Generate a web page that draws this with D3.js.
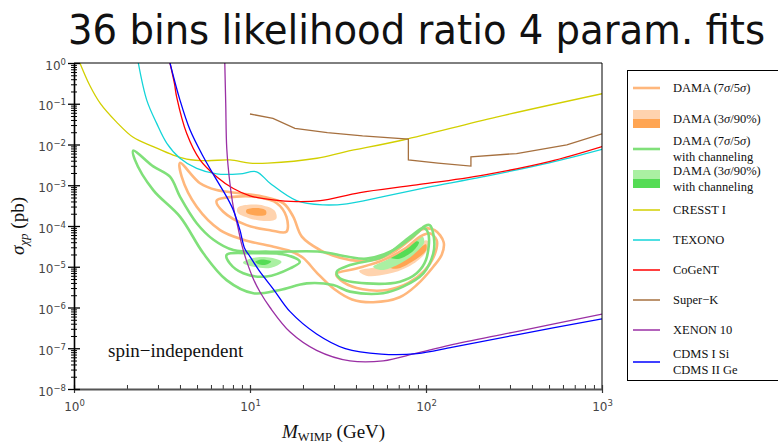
<!DOCTYPE html>
<html>
<head>
<meta charset="utf-8">
<script src="https://cdn.jsdelivr.net/npm/d3@7"></script>
<style>
  body { margin: 0; background: #fff; }
  svg { display: block; }
</style>
</head>
<body>
<div id="chart"></div>
<script>
// ---- data: [mass (GeV), cross section (pb)] ----
const massTicks = [1, 10, 100, 1000];
const massTickExp = ["0", "1", "2", "3"];
const sigmaTicks = [1, 1e-1, 1e-2, 1e-3, 1e-4, 1e-5, 1e-6, 1e-7, 1e-8];
const sigmaTickExp = ["0", "−1", "−2", "−3", "−4", "−5", "−6", "−7", "−8"];

const cresst = [[1.08, 1], [1.23, 0.28], [1.41, 0.102], [1.74, 0.036], [2.17, 0.015], [2.82, 8.9e-3],
  [3.66, 5.5e-3], [4.37, 4.4e-3], [5.68, 4.0e-3], [7.69, 4.2e-3], [10, 3.5e-3], [12.6, 3.5e-3],
  [24, 4.6e-3], [34.7, 6.6e-3], [74, 0.0129], [251, 0.047], [1000, 0.176]];

const texono = [[2.32, 1], [2.59, 0.123], [2.95, 0.033], [3.37, 0.0107], [4.0, 4.6e-3], [4.98, 2.6e-3],
  [6.46, 1.9e-3], [8.77, 1.9e-3], [10.9, 2.14e-3], [13.0, 1.12e-3], [18.4, 4.2e-4], [26.1, 3.3e-4],
  [35.5, 3.5e-4], [57.1, 5.25e-4], [100, 8.7e-4], [212, 1.62e-3], [501, 3.55e-3], [1000, 7.6e-3]];

const cogent = [[3.51, 1], [3.72, 0.316], [3.83, 0.148], [4.37, 0.0186], [5.2, 4.2e-3], [6.46, 1.62e-3],
  [8.04, 8.3e-4], [10, 5.5e-4], [13.5, 4.37e-4], [18.4, 3.98e-4], [25.1, 4.2e-4], [42.2, 6.6e-4],
  [88.5, 1.02e-3], [212, 1.78e-3], [501, 3.8e-3], [1000, 8.9e-3]];

const superK = [[10, 0.056], [13.5, 0.0437], [18, 0.025], [27.5, 0.0195], [43.6, 0.0162], [79.4, 0.0135],
  [79.4, 4.2e-3], [117, 3.5e-3], [180, 2.95e-3], [180, 5.0e-3], [327, 6.0e-3], [631, 9.8e-3],
  [1000, 0.0182]];

const xenon10 = [[7.19, 1], [7.28, 0.1], [7.38, 7.9e-3], [7.69, 1.12e-3], [8.04, 2.95e-4], [8.51, 1e-4],
  [8.97, 3.55e-5], [9.55, 1.41e-5], [10.45, 5.0e-6], [11.4, 2.4e-6], [13.0, 1e-6], [16.9, 2.5e-7],
  [23.9, 8.9e-8], [37, 4.9e-8], [57.1, 4.9e-8], [88.5, 7.6e-8], [137, 1.2e-7], [327, 2.57e-7],
  [1000, 6.9e-7]];

const cdms = [[3.51, 1], [4.0, 0.123], [4.56, 0.0229], [5.43, 5.0e-3], [6.46, 1.35e-3], [7.36, 5.25e-4],
  [8.04, 2.45e-4], [8.77, 7.9e-5], [9.33, 2.8e-5], [10, 1.78e-5], [11.3, 7.9e-6], [13.6, 2.8e-6],
  [16.9, 7.9e-7], [23.9, 2.24e-7], [34.8, 9.8e-8], [55.7, 7.2e-8], [88.9, 7.4e-8], [142, 1.07e-7],
  [327, 2.14e-7], [1000, 5.25e-7]];

// DAMA contours without channeling (orange)
const dama7 = [[4.0, 3.55e-3], [5.2, 1.12e-3], [6.46, 7.6e-4], [8.91, 6.3e-4], [11.9, 5.25e-4],
  [15.5, 3.6e-4], [17.6, 1.7e-4], [19.7, 5.5e-5], [25, 2.57e-5], [29.5, 1.9e-5], [39.8, 1.41e-5],
  [52.5, 1.5e-5], [67.6, 2.5e-5], [83.2, 5.0e-5], [95.5, 8.3e-5], [112, 7.9e-5], [126, 4.0e-5],
  [123, 2.0e-5], [110, 1.0e-5], [88.5, 3.55e-6], [70.8, 1.78e-6], [50.1, 1.35e-6], [38, 1.58e-6],
  [30.2, 2.8e-6], [24, 7.1e-6], [20, 1.66e-5], [16.6, 2.5e-5], [13.6, 3.1e-5], [9.16, 4.6e-5],
  [6.76, 7.9e-5], [4.98, 2.95e-4], [4.09, 1.62e-3]];
const dama5Low = [[6.46, 4.17e-4], [8.4, 5.25e-4], [11.4, 5.0e-4], [14.2, 3.63e-4], [16.1, 1.7e-4],
  [16.1, 7.2e-5], [13.0, 7.9e-5], [9.57, 1.05e-4], [7.05, 2.24e-4]];
const dama5High = [[30.9, 6.6e-6], [39.8, 8.9e-6], [56.2, 1.41e-5], [75.9, 2.8e-5], [93.3, 5.6e-5],
  [105, 6.6e-5], [115, 4.5e-5], [112, 2.0e-5], [97.7, 7.9e-6], [79.4, 4.0e-6], [60.3, 2.7e-6],
  [43.6, 2.8e-6], [33.9, 4.2e-6]];
const dama90Low = [[8.51, 2.8e-4], [9.77, 3.3e-4], [12.0, 3.16e-4], [13.8, 2.4e-4], [14.1, 1.51e-4],
  [12.0, 1.32e-4], [9.77, 1.58e-4], [8.51, 2.1e-4]];
const dama3Low = [[9.55, 2.5e-4], [11.0, 2.75e-4], [12.3, 2.4e-4], [12.3, 1.9e-4], [10.7, 1.82e-4],
  [9.55, 2.1e-4]];
const dama90High = [[41.7, 7.9e-6], [52.5, 1e-5], [70.8, 1.66e-5], [89.1, 3.16e-5], [100, 4.5e-5],
  [105, 3.8e-5], [97.7, 2.0e-5], [79.4, 1e-5], [60.3, 6.6e-6], [45.7, 6.0e-6]];
const dama3High = [[60.3, 1.05e-5], [75.9, 1.58e-5], [91.2, 2.8e-5], [100, 3.55e-5], [100, 2.5e-5],
  [85.1, 1.41e-5], [67.6, 8.9e-6]];

// DAMA contours with channeling (green)
const chan7 = [[2.17, 7.1e-3], [2.82, 2.9e-3], [3.51, 1.62e-3], [4.0, 5.25e-4], [4.98, 1.17e-4],
  [6.2, 4.6e-5], [8.04, 2.57e-5], [13.0, 2.34e-5], [25.1, 2.34e-5], [35.5, 1.78e-5], [46, 1.58e-5],
  [65.2, 2.57e-5], [88.5, 6.6e-5], [98.6, 1.0e-4], [105, 1.05e-4], [111, 5.0e-5], [110, 2.14e-5],
  [96.6, 6.9e-6], [74.1, 3.24e-6], [57.1, 2.24e-6], [37, 2.45e-6], [29.7, 3.55e-6], [21, 3.9e-6],
  [14.8, 2.7e-6], [10.45, 2.24e-6], [7.36, 4.7e-6], [5.43, 2.14e-5], [4.0, 1.7e-4], [2.82, 7.6e-4],
  [2.22, 4.2e-3]];
const chan5Low = [[7.36, 1.95e-5], [10.45, 2.14e-5], [16.1, 1.95e-5], [19.2, 1.32e-5], [16.9, 9.1e-6],
  [12.4, 5.75e-6], [9.16, 6.9e-6], [7.69, 1.2e-5]];
const chan5High = [[31.1, 7.6e-6], [37, 1.1e-5], [57.1, 1.78e-5], [81.3, 5.5e-5], [96.6, 8.9e-5],
  [103, 6.6e-5], [100, 1.48e-5], [88.5, 6.9e-6], [71.1, 4.3e-6], [46, 3.9e-6], [32.4, 5.25e-6]];
const chan90Low = [[9.12, 1.26e-5], [10.5, 1.66e-5], [13.2, 1.66e-5], [15.1, 1.32e-5], [13.2, 9.5e-6],
  [10.5, 1e-5]];
const chan3Low = [[10.7, 1.32e-5], [11.7, 1.51e-5], [13.2, 1.35e-5], [12.3, 1.12e-5], [11.2, 1.15e-5]];
const chan90High = [[50.1, 1e-5], [60.3, 1.51e-5], [75.9, 2.8e-5], [89.1, 5.0e-5], [95.5, 5.6e-5],
  [97.7, 4.0e-5], [85.1, 2.0e-5], [69.2, 1.12e-5], [56.2, 8.3e-6]];
const chan3High = [[63.1, 1.66e-5], [75.9, 2.63e-5], [87.1, 4.2e-5], [91.2, 4.0e-5], [85.1, 2.5e-5],
  [70.8, 1.58e-5]];

const legendLabels = [["DAMA (7σ/5σ)"], ["DAMA (3σ/90%)"], ["DAMA (7σ/5σ)", "with channeling"],
  ["DAMA (3σ/90%)", "with channeling"], ["CRESST I"], ["TEXONO"], ["CoGeNT"], ["Super−K"],
  ["XENON 10"], ["CDMS I Si", "CDMS II Ge"]];

// ---- layout ----
const width = 778, height = 445;
const plot = { left: 74, right: 602, top: 63, bottom: 389 };
const serif = "'Liberation Serif', 'Times New Roman', serif";

const col = {
  orangeLine: "#ffb77c", orangeLight: "#ffd3ae", orangeDark: "#ffa552",
  greenLine: "#80e07a", greenLight: "#aaf0a2", greenDark: "#55dc55",
  cresst: "#d2cf00", texono: "#13d4d8", cogent: "#ff0000", superK: "#a6703f",
  xenon: "#9a2fa4", cdms: "#0000ff"
};

const svg = d3.select("#chart").append("svg")
  .attr("width", width).attr("height", height);

const x = d3.scaleLog().domain([1, 1000]).range([plot.left, plot.right]);
const y = d3.scaleLog().domain([1e-8, 1]).range([plot.bottom, plot.top]);

// Title
svg.append("text")
  .attr("x", 68).attr("y", 44)
  .attr("textLength", 697).attr("lengthAdjust", "spacingAndGlyphs")
  .style("font-family", "'DejaVu Sans Condensed', 'DejaVu Sans', sans-serif")
  .style("font-size", "40px").attr("fill", "#111")
  .text("36 bins likelihood ratio 4 param. fits");

// clip for plot area
svg.append("clipPath").attr("id", "clip").append("rect")
  .attr("x", plot.left).attr("y", plot.top)
  .attr("width", plot.right - plot.left).attr("height", plot.bottom - plot.top);
const g = svg.append("g").attr("clip-path", "url(#clip)");

const closed = d3.line().x(d => x(d[0])).y(d => y(d[1])).curve(d3.curveCatmullRomClosed.alpha(0.5));
const smooth = d3.line().x(d => x(d[0])).y(d => y(d[1])).curve(d3.curveCatmullRom.alpha(0.5));
const straight = d3.line().x(d => x(d[0])).y(d => y(d[1]));

// filled regions
[[dama90Low, col.orangeLight], [dama3Low, col.orangeDark], [dama90High, col.orangeLight],
 [dama3High, col.orangeDark], [chan90Low, col.greenLight], [chan3Low, col.greenDark],
 [chan90High, col.greenLight], [chan3High, col.greenDark]].forEach(([pts, c]) => {
  g.append("path").attr("d", closed(pts)).attr("fill", c).attr("stroke", "none");
});

// contour lines
[[dama7, col.orangeLine], [dama5Low, col.orangeLine], [dama5High, col.orangeLine],
 [chan7, col.greenLine], [chan5Low, col.greenLine], [chan5High, col.greenLine]].forEach(([pts, c]) => {
  g.append("path").attr("d", closed(pts)).attr("fill", "none")
    .attr("stroke", c).attr("stroke-width", 2.6).attr("stroke-linejoin", "round");
});

// exclusion limits
[[cresst, col.cresst, smooth], [texono, col.texono, smooth], [cogent, col.cogent, smooth],
 [superK, col.superK, straight], [xenon10, col.xenon, smooth], [cdms, col.cdms, smooth]].forEach(([pts, c, gen]) => {
  g.append("path").attr("d", gen(pts)).attr("fill", "none")
    .attr("stroke", c).attr("stroke-width", 1.3);
});

// frame (top and right)
svg.append("path")
  .attr("d", `M${plot.left},${plot.top}H${plot.right}V${plot.bottom}`)
  .attr("fill", "none").attr("stroke", "#000").attr("stroke-width", 1);

// ---- axes ----
const isMajor = v => Math.abs(Math.log10(v) - Math.round(Math.log10(v))) < 1e-6;

// x minor ticks
const xMinorG = svg.append("g").attr("transform", `translate(0,${plot.bottom})`)
  .call(d3.axisBottom(x).tickValues(x.ticks().filter(v => !isMajor(v))).tickSize(0).tickFormat(""));
xMinorG.select(".domain").remove();
xMinorG.selectAll(".tick line").attr("y1", -4).attr("y2", 0).attr("stroke", "#333");

// x major ticks + labels
const xAxisG = svg.append("g").attr("transform", `translate(0,${plot.bottom})`)
  .call(d3.axisBottom(x).tickValues(massTicks).tickSize(0).tickFormat(""));
xAxisG.select(".domain").attr("stroke", "#555").attr("stroke-width", 2);
xAxisG.selectAll(".tick line").attr("y1", -4).attr("y2", 4).attr("stroke", "#333").attr("stroke-width", 1.2);
xAxisG.selectAll(".tick").each(function(d, i) {
  const t = d3.select(this).append("text")
    .attr("y", 22).attr("text-anchor", "middle").attr("fill", "#444")
    .style("font-family", "'DejaVu Sans', sans-serif").style("font-size", "12px");
  t.append("tspan").text("10");
  t.append("tspan").attr("dy", -5).style("font-size", "8.5px").text(massTickExp[i]);
});

// y minor ticks
const yMinorG = svg.append("g").attr("transform", `translate(${plot.left},0)`)
  .call(d3.axisLeft(y).tickValues(y.ticks().filter(v => !isMajor(v))).tickSize(0).tickFormat(""));
yMinorG.select(".domain").remove();
yMinorG.selectAll(".tick line").attr("x1", -3).attr("x2", 3).attr("stroke", "#000");

// y major ticks + labels
const yAxisG = svg.append("g").attr("transform", `translate(${plot.left},0)`)
  .call(d3.axisLeft(y).tickValues(sigmaTicks).tickSize(0).tickFormat(""));
yAxisG.select(".domain").attr("stroke", "#000").attr("stroke-width", 1.6);
yAxisG.selectAll(".tick line").attr("x1", -6).attr("x2", 6).attr("stroke", "#000").attr("stroke-width", 1.3);
yAxisG.selectAll(".tick").each(function(d, i) {
  const t = d3.select(this).append("text")
    .attr("x", -8).attr("y", 6).attr("text-anchor", "end").attr("fill", "#444")
    .style("font-family", "'DejaVu Sans', sans-serif").style("font-size", "12px");
  t.append("tspan").text("10");
  t.append("tspan").attr("dy", -5).style("font-size", "8.5px").text(sigmaTickExp[i]);
});

// axis titles
const xTitle = svg.append("text").attr("x", 282).attr("y", 438)
  .style("font-family", serif).style("font-size", "19px").attr("fill", "#111");
xTitle.append("tspan").style("font-style", "italic").text("M");
xTitle.append("tspan").attr("dy", 3).style("font-size", "12.5px").text("WIMP");
xTitle.append("tspan").attr("dy", -3).text(" (GeV)");

const yTitle = svg.append("text")
  .attr("transform", "translate(24,226) rotate(-90)").attr("text-anchor", "middle")
  .style("font-family", serif).style("font-size", "19px").attr("fill", "#111");
yTitle.append("tspan").style("font-style", "italic").text("σ");
yTitle.append("tspan").attr("dy", 4).style("font-size", "13px").style("font-style", "italic").text("χp");
yTitle.append("tspan").attr("dy", -4).text(" (pb)");

svg.append("text").attr("x", 108).attr("y", 357)
  .style("font-family", serif).style("font-size", "19px").attr("fill", "#111")
  .text("spin−independent");

// ---- legend ----
const legendRowY = [88, 119, 149, 179, 210, 240, 270, 300, 330, 362];
const legendKind = [
  { type: "line", c: col.orangeLine, w: 2.6 }, { type: "box", c: [col.orangeLight, col.orangeDark] },
  { type: "line", c: col.greenLine, w: 2.6 }, { type: "box", c: [col.greenLight, col.greenDark] },
  { type: "line", c: col.cresst, w: 1.5 }, { type: "line", c: col.texono, w: 1.5 },
  { type: "line", c: col.cogent, w: 1.5 }, { type: "line", c: col.superK, w: 1.5 },
  { type: "line", c: col.xenon, w: 1.5 }, { type: "line", c: col.cdms, w: 1.5 }
];

const legend = svg.append("g");
legend.append("rect").attr("x", 627.5).attr("y", 70.5).attr("width", 200).attr("height", 310)
  .attr("fill", "#fff").attr("stroke", "#000").attr("stroke-width", 1);

function richText(sel, str) {
  str.split(/(σ)/).forEach(part => {
    if (!part) return;
    const ts = sel.append("tspan").text(part);
    if (part === "σ") ts.style("font-style", "italic");
  });
}

legendLabels.forEach((lines, i) => {
  const yc = legendRowY[i], k = legendKind[i];
  if (k.type === "line") {
    legend.append("line").attr("x1", 633).attr("x2", 660).attr("y1", yc).attr("y2", yc)
      .attr("stroke", k.c).attr("stroke-width", k.w);
  } else {
    legend.append("rect").attr("x", 633).attr("y", yc - 9).attr("width", 27).attr("height", 9).attr("fill", k.c[0]);
    legend.append("rect").attr("x", 633).attr("y", yc).attr("width", 27).attr("height", 9).attr("fill", k.c[1]);
  }
  lines.forEach((s, j) => {
    const off = lines.length === 1 ? 0 : (j === 0 ? -8 : 8);
    const t = legend.append("text").attr("x", 673).attr("y", yc + off + 4)
      .style("font-family", serif).style("font-size", "12.5px").attr("fill", "#111");
    richText(t, s);
  });
});
</script>
</body>
</html>
